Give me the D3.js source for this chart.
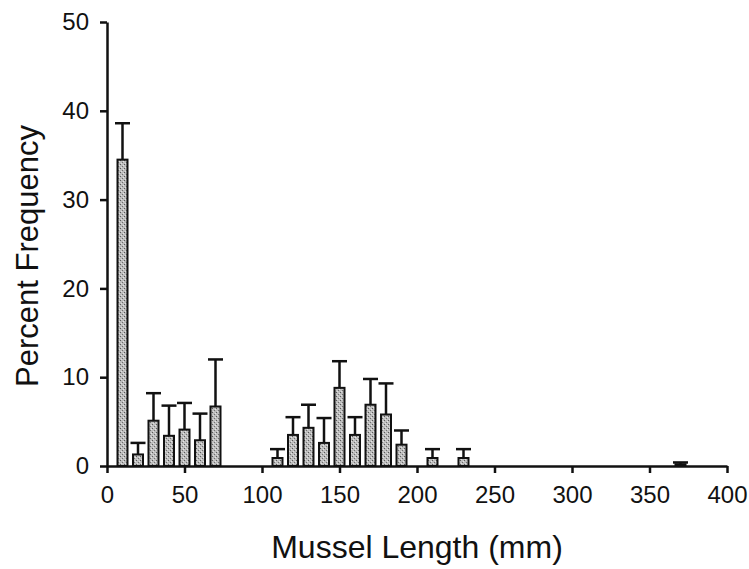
<!DOCTYPE html>
<html lang="en">
<head>
<meta charset="UTF-8">
<title>Mussel Length</title>
<script src="https://d3js.org/d3.v7.min.js"></script>
<style>
  body { margin: 0; background: #fff; }
  svg { display: block; }
  .axis text { font-family: Arial, "Liberation Sans", sans-serif; font-size: 24px; fill: #111; }
  .axis path, .axis line { stroke: #111; stroke-width: 2.5px; }
  .title { font-family: Arial, "Liberation Sans", sans-serif; font-size: 32px; fill: #111; }
</style>
</head>
<body>
<svg id="chart"></svg>
<script>
// bin midpoints (mm), percent frequency, and the upper error (SE)
const lengths = [10, 20, 30, 40, 50, 60, 70, 110, 120, 130, 140, 150, 160, 170, 180, 190, 210, 230, 370]
const percent = [34.5, 1.3, 5.1, 3.4, 4.1, 2.9, 6.7, 0.9, 3.5, 4.3, 2.6, 8.8, 3.5, 6.9, 5.8, 2.4, 0.9, 0.9, 0.2]
const stdErr  = [4.1, 1.3, 3.1, 3.4, 3.0, 3.0, 5.3, 1.0, 2.0, 2.6, 2.8, 3.0, 2.0, 2.9, 3.5, 1.6, 1.0, 1.0, 0.2]
const xTicks = [0, 50, 100, 150, 200, 250, 300, 350, 400]
const yTicks = [0, 10, 20, 30, 40, 50]

const width = 749, height = 569
const margin = {top: 22, right: 22, bottom: 103, left: 107}

const bars = lengths.map((l, i) => ({len: l, pct: percent[i], se: stdErr[i]}))

const svg = d3.select('#chart').attr('width', width).attr('height', height)

// stippled grey fill like the scanned figure
const defs = svg.append('defs')
const pat = defs.append('pattern')
  .attr('id', 'stipple')
  .attr('patternUnits', 'userSpaceOnUse')
  .attr('width', 4).attr('height', 4)
pat.append('rect').attr('width', 4).attr('height', 4).attr('fill', '#bdbdbd')
pat.append('rect').attr('x', 0).attr('y', 0).attr('width', 1).attr('height', 1).attr('fill', '#5a5a5a')
pat.append('rect').attr('x', 2).attr('y', 2).attr('width', 1).attr('height', 1).attr('fill', '#707070')
pat.append('rect').attr('x', 3).attr('y', 1).attr('width', 1).attr('height', 1).attr('fill', '#e6e6e6')
pat.append('rect').attr('x', 1).attr('y', 3).attr('width', 1).attr('height', 1).attr('fill', '#e0e0e0')

const x = d3.scaleLinear()
  .domain([0, 400])
  .range([margin.left, width - margin.right])
const y = d3.scaleLinear()
  .domain([0, 50])
  .range([height - margin.bottom, margin.top])

const barW = 10
const capW = 15

// error bars (upper only), drawn under the bars
const err = svg.append('g').attr('stroke', '#111').attr('stroke-width', 2.5)
err.selectAll('line.stem')
  .data(bars).enter().append('line')
  .attr('class', 'stem')
  .attr('x1', d => x(d.len)).attr('x2', d => x(d.len))
  .attr('y1', d => y(d.pct)).attr('y2', d => y(d.pct + d.se))
err.selectAll('line.cap')
  .data(bars).enter().append('line')
  .attr('class', 'cap')
  .attr('x1', d => x(d.len) - capW / 2).attr('x2', d => x(d.len) + capW / 2)
  .attr('y1', d => y(d.pct + d.se)).attr('y2', d => y(d.pct + d.se))

svg.append('g')
  .selectAll('rect')
  .data(bars).enter().append('rect')
  .attr('x', d => x(d.len) - barW / 2)
  .attr('y', d => y(d.pct))
  .attr('width', barW)
  .attr('height', d => y(0) - y(d.pct))
  .attr('fill', 'url(#stipple)')
  .attr('stroke', '#111')
  .attr('stroke-width', 2)

// axes
svg.append('g')
  .attr('class', 'axis')
  .attr('transform', `translate(0,${y(0)})`)
  .call(d3.axisBottom(x).tickValues(xTicks).tickSize(7).tickSizeOuter(0).tickPadding(13))

svg.append('g')
  .attr('class', 'axis')
  .attr('transform', `translate(${x(0)},0)`)
  .call(d3.axisLeft(y).tickValues(yTicks).tickSize(7).tickSizeOuter(0).tickPadding(11))

// titles
svg.append('text')
  .attr('class', 'title')
  .attr('x', (x(0) + x(400)) / 2)
  .attr('y', 558)
  .attr('text-anchor', 'middle')
  .text('Mussel Length (mm)')

svg.append('text')
  .attr('class', 'title')
  .style('font-size', '31px')
  .attr('transform', `translate(38,256) rotate(-90)`)
  .attr('text-anchor', 'middle')
  .text('Percent Frequency')
</script>
</body>
</html>
